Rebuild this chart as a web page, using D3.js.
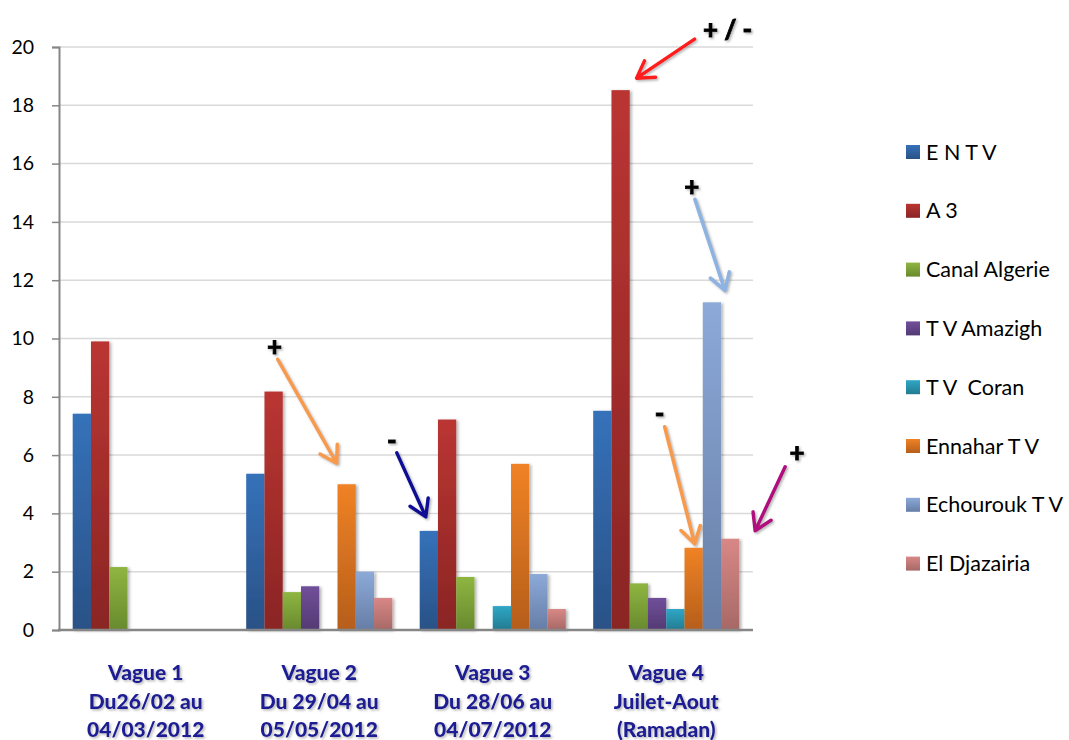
<!DOCTYPE html>
<html>
<head>
<meta charset="utf-8">
<script src="https://cdn.jsdelivr.net/npm/d3@7"></script>
<style>
  body { margin: 0; background: #fff; }
  svg { display: block; font-family: Lato, "Open Sans", sans-serif; }
</style>
</head>
<body>
<svg id="chart" width="1069" height="740"></svg>
<script>
// chart data
const categories = [
  ['Vague 1', 'Du26/02 au', '04/03/2012'],
  ['Vague 2', 'Du 29/04 au', '05/05/2012'],
  ['Vague 3', 'Du 28/06 au', '04/07/2012'],
  ['Vague 4', 'Juilet-Aout', '(Ramadan)']
];
const seriesNames = ['E N T V', 'A 3', 'Canal Algerie', 'T V Amazigh', 'T V  Coran', 'Ennahar T V', 'Echourouk T V', 'El Djazairia'];
const entv = [7.42, 5.36, 3.4, 7.52];
const a3 = [9.9, 8.18, 7.22, 18.52];
const canalAlgerie = [2.16, 1.3, 1.82, 1.6];
const tvAmazigh = [0, 1.5, 0, 1.1];
const tvCoran = [0, 0, 0.82, 0.72];
const ennahar = [0, 5.0, 5.7, 2.82];
const echourouk = [0, 2.0, 1.92, 11.24];
const elDjazairia = [0, 1.1, 0.72, 3.13];
const yTicks = [0, 2, 4, 6, 8, 10, 12, 14, 16, 18, 20];

const seriesValues = [entv, a3, canalAlgerie, tvAmazigh, tvCoran, ennahar, echourouk, elDjazairia];
// gradient top / bottom per series
const colors = [
  ['#3572ba', '#2a5186'],
  ['#ba3532', '#8a2524'],
  ['#8fb541', '#688a2e'],
  ['#714f9a', '#533a73'],
  ['#2fa7c6', '#237b91'],
  ['#f08225', '#b55e1b'],
  ['#8ca9d8', '#667ea6'],
  ['#d88886', '#a66966']
];

// small stand-in for d3-selection-multi
d3.selection.prototype.attrs = function (obj) {
  Object.keys(obj).forEach(k => this.attr(k, obj[k]));
  return this;
};

main();

function main () {
  const svg = d3.select('svg#chart');
  const margin = { left: 59, right: 753, top: 47, bottom: 630 };

  const defs = svg.append('defs');
  colors.forEach((c, i) => {
    const g = defs.append('linearGradient').attrs({ id: 'grad' + i, x1: 0, y1: 0, x2: 0, y2: 1 });
    g.append('stop').attrs({ offset: '0%', 'stop-color': c[0] });
    g.append('stop').attrs({ offset: '100%', 'stop-color': c[1] });
  });
  const shadow = defs.append('filter').attrs({ id: 'shadow', x: '-30%', y: '-10%', width: '170%', height: '130%' });
  shadow.append('feDropShadow').attrs({ dx: 2, dy: 1, stdDeviation: 1.6, 'flood-color': '#000', 'flood-opacity': 0.3 });
  const textShadow = defs.append('filter').attrs({ id: 'tshadow', x: '-10%', y: '-20%', width: '130%', height: '150%' });
  textShadow.append('feDropShadow').attrs({ dx: 1.5, dy: 1.5, stdDeviation: 1, 'flood-color': '#777', 'flood-opacity': 0.55 });

  const y = d3.scaleLinear().domain([0, 20]).range([margin.bottom, margin.top]);
  const x0 = d3.scaleBand().domain(d3.range(categories.length)).range([margin.left, margin.right]).padding(0);
  const x1 = d3.scaleBand().domain(d3.range(seriesNames.length)).range([0, x0.bandwidth()])
    .paddingInner(0).paddingOuter(0.75);

  // gridlines
  svg.append('g').selectAll('line').data(yTicks.slice(1)).join('line').attrs({
    x1: margin.left, x2: margin.right,
    y1: d => y(d), y2: d => y(d),
    stroke: '#d9d9d9', 'stroke-width': 1.5
  });

  // y axis
  const yAxis = svg.append('g').attr('transform', `translate(${margin.left},0)`)
    .call(d3.axisLeft(y).tickValues(yTicks).tickSize(7).tickPadding(18));
  yAxis.select('.domain').attrs({ stroke: '#868686', 'stroke-width': 2 });
  yAxis.selectAll('.tick line').attrs({ stroke: '#868686', 'stroke-width': 1.5 });
  yAxis.selectAll('.tick text').attrs({ fill: '#000', 'font-size': 19.5 }).style('font-family', 'Lato, sans-serif');

  // bars
  const groups = svg.append('g').selectAll('g').data(categories).join('g')
    .attr('transform', (d, i) => `translate(${x0(i)},0)`);
  groups.selectAll('rect').data((d, ci) => seriesValues.map((vals, si) => ({ si, v: vals[ci] })).filter(d => d.v > 0))
    .join('rect').attrs({
      x: d => x1(d.si),
      y: d => y(d.v),
      width: x1.bandwidth(),
      height: d => y(0) - y(d.v),
      fill: d => `url(#grad${d.si})`,
      filter: 'url(#shadow)'
    });

  // x axis line
  svg.append('line').attrs({
    x1: margin.left - 1, x2: margin.right, y1: y(0), y2: y(0),
    stroke: '#868686', 'stroke-width': 2.5
  });

  // category labels
  const labels = svg.append('g').selectAll('text').data(categories).join('text').attrs({
    x: (d, i) => x0(i) + x0.bandwidth() / 2,
    y: 680,
    'text-anchor': 'middle',
    'font-size': 21,
    'font-weight': 900,
    fill: '#1a1a94',
    filter: 'url(#tshadow)'
  });
  labels.selectAll('tspan').data(d => d).join('tspan').attrs({
    x: function () { return this.parentNode.getAttribute('x'); },
    dy: (d, i) => i === 0 ? 0 : 28.5
  }).text(d => d);

  // legend
  const legend = svg.append('g').selectAll('g').data(seriesNames).join('g')
    .attr('transform', (d, i) => `translate(906,${152 + i * 58.8})`);
  legend.append('rect').attrs({ x: 0, y: -7, width: 14, height: 14, fill: (d, i) => `url(#grad${i})` });
  legend.append('text').attrs({ x: 20, y: 7.5, 'font-size': 21.5, fill: '#000' })
    .style('white-space', 'pre').text(d => d);

  // annotations: anchored on the top centre of a bar
  const barTop = (ci, si) => [x0(ci) + x1(si) + x1.bandwidth() / 2, y(seriesValues[si][ci])];
  const notes = [
    { ci: 3, si: 1, label: '+ / -', tail: [74, -51], tip: [16, -12], text: [107, -60], color: '#ff1a1a' },
    { ci: 3, si: 6, label: '+', tail: [-17, -103], tip: [13, -12], text: [-20, -115], color: '#8db3e2' },
    { ci: 1, si: 5, label: '+', tail: [-69, -125], tip: [-10, -21], text: [-72, -137], color: '#f79a4c' },
    { ci: 2, si: 0, label: '-', tail: [-32, -78], tip: [-3, -14], text: [-37, -90], color: '#0a0a96' },
    { ci: 3, si: 5, label: '-', tail: [-29, -121], tip: [1, -4], text: [-34, -134], color: '#f79a4c' },
    { ci: 3, si: 7, label: '+', tail: [55, -72], tip: [25, -8], text: [67, -86], color: '#b0107e' }
  ];
  const ann = svg.append('g').attr('filter', 'url(#tshadow)');
  notes.forEach(n => {
    const [bx, by] = barTop(n.ci, n.si);
    const tx = bx + n.tail[0], ty = by + n.tail[1];
    const px = bx + n.tip[0], py = by + n.tip[1];
    const ang = Math.atan2(py - ty, px - tx);
    const hl = 19, ha = 0.55;
    const path = d3.path();
    path.moveTo(tx, ty);
    path.lineTo(px, py);
    path.moveTo(px - hl * Math.cos(ang - ha), py - hl * Math.sin(ang - ha));
    path.lineTo(px, py);
    path.lineTo(px - hl * Math.cos(ang + ha), py - hl * Math.sin(ang + ha));
    ann.append('path').attrs({
      d: path.toString(), fill: 'none', stroke: n.color, 'stroke-width': 3.5,
      'stroke-linecap': 'round', 'stroke-linejoin': 'round'
    });
    ann.append('text').attrs({
      x: bx + n.text[0], y: by + n.text[1], dy: '0.34em',
      'text-anchor': 'middle', 'font-size': 26, 'font-weight': 900, fill: '#000',
      stroke: '#000', 'stroke-width': 0.8
    }).style('white-space', 'pre').text(n.label);
  });
}
</script>
</body>
</html>
